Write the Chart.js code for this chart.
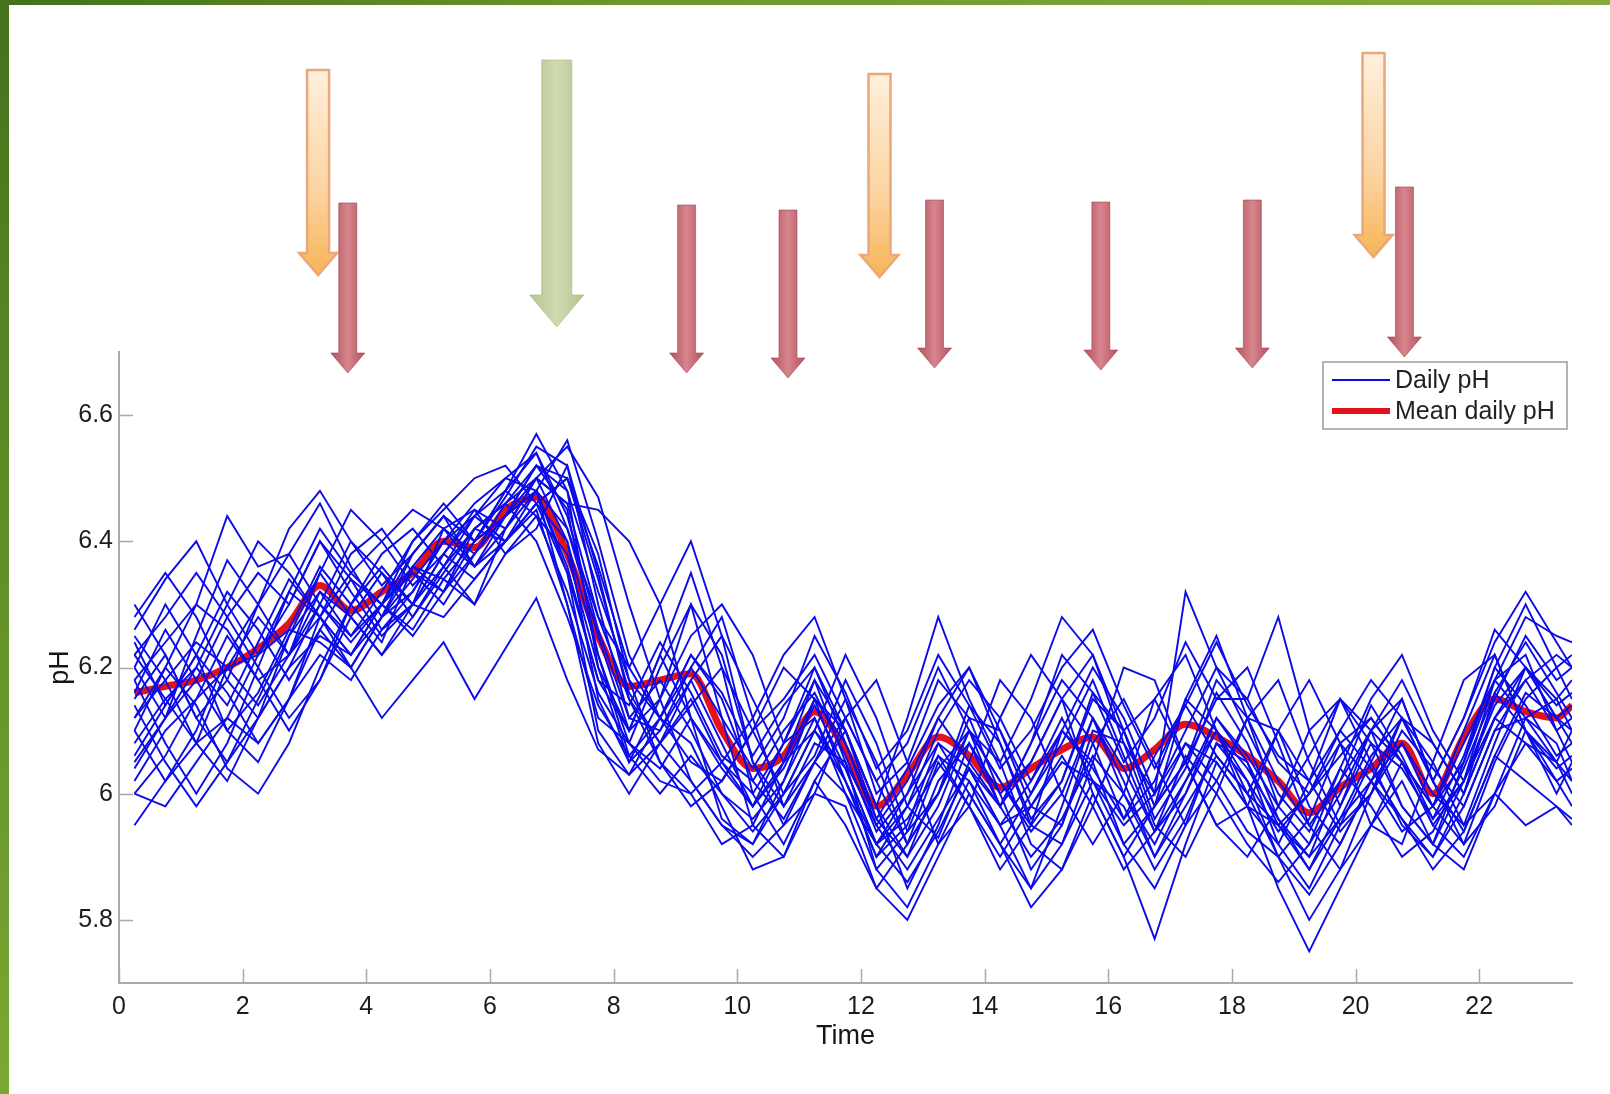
<!DOCTYPE html>
<html lang="en">
<head>
<meta charset="UTF-8">
<title>Daily pH</title>
<script src="https://cdn.jsdelivr.net/npm/chart.js"></script>
<style>
    html, body { margin: 0; padding: 0; background: #ffffff; }
    body { width: 1610px; height: 1094px; position: relative; overflow: hidden; }
    #chart { position: absolute; left: 0; top: 0; }
    #edge-top {
        position: absolute; left: 0; top: 0; width: 1610px; height: 5px; z-index: 2;
        background: linear-gradient(to right, #44701c, #6c982b 40%, #88aa3c);
    }
    #edge-left {
        position: absolute; left: 0; top: 0; width: 9px; height: 1094px; z-index: 2;
        background: linear-gradient(to bottom, #46711d, #5e8c26 45%, #79a834);
    }
</style>
</head>
<body>
<canvas id="chart" width="1610" height="1094"></canvas>
<div id="edge-top"></div>
<div id="edge-left"></div>
<script>
// time axis (hours), shared by every series
const hours = [0.25, 0.75, 1.25, 1.75, 2.25, 2.75, 3.25, 3.75, 4.25, 4.75,
    5.25, 5.75, 6.25, 6.75, 7.25, 7.75, 8.25, 8.75, 9.25, 9.75,
    10.25, 10.75, 11.25, 11.75, 12.25, 12.75, 13.25, 13.75, 14.25, 14.75,
    15.25, 15.75, 16.25, 16.75, 17.25, 17.75, 18.25, 18.75, 19.25, 19.75,
    20.25, 20.75, 21.25, 21.75, 22.25, 22.75, 23.25, 23.5];

const xTicks = [0, 2, 4, 6, 8, 10, 12, 14, 16, 18, 20, 22];
const yTicks = [5.8, 6, 6.2, 6.4, 6.6];

// events marked by arrows above the plot
const eventTimes = [3.22, 3.70, 7.08, 9.18, 10.82, 12.30, 13.19, 15.88, 18.33, 20.29, 20.79];
const eventKinds = ['orange', 'red', 'green', 'red', 'red', 'orange', 'red', 'red', 'red', 'orange', 'red'];

const meanPH = [6.16, 6.17, 6.18, 6.20, 6.23, 6.27, 6.33, 6.29, 6.32, 6.35,
    6.40, 6.39, 6.45, 6.47, 6.38, 6.25, 6.17, 6.18, 6.19, 6.10,
    6.04, 6.06, 6.13, 6.07, 5.98, 6.03, 6.09, 6.06, 6.01, 6.04,
    6.07, 6.09, 6.04, 6.07, 6.11, 6.09, 6.06, 6.02, 5.97, 6.01,
    6.04, 6.08, 6.00, 6.09, 6.15, 6.13, 6.12, 6.14];

const day01 = [6.30, 6.22, 6.12, 6.18, 6.30, 6.42, 6.48, 6.40, 6.33, 6.38, 6.44, 6.40, 6.47, 6.55, 6.52, 6.30, 6.12, 6.10, 6.20, 6.28, 6.12, 5.98, 6.05, 6.15, 6.05, 5.92, 6.00, 6.12, 6.10, 5.98, 5.95, 6.08, 6.15, 6.05, 5.95, 6.02, 6.12, 6.10, 5.98, 5.92, 6.02, 6.12, 6.05, 5.95, 6.08, 6.20, 6.15, 6.10];
const day02 = [6.05, 6.12, 6.25, 6.37, 6.30, 6.22, 6.28, 6.35, 6.30, 6.25, 6.32, 6.42, 6.40, 6.48, 6.56, 6.40, 6.22, 6.12, 6.05, 6.02, 6.10, 6.20, 6.15, 6.02, 5.92, 6.00, 6.12, 6.20, 6.08, 5.95, 5.92, 6.05, 6.20, 6.18, 6.05, 5.95, 5.98, 6.10, 6.18, 6.08, 5.95, 5.92, 6.05, 6.18, 6.22, 6.10, 6.00, 6.05];
const day03 = [6.20, 6.30, 6.22, 6.10, 6.05, 6.15, 6.28, 6.38, 6.42, 6.35, 6.30, 6.38, 6.46, 6.52, 6.48, 6.20, 6.05, 6.15, 6.30, 6.22, 6.05, 5.95, 6.00, 6.12, 6.18, 6.05, 5.92, 5.98, 6.12, 6.22, 6.15, 6.00, 5.90, 5.98, 6.15, 6.25, 6.12, 5.98, 5.92, 6.00, 6.10, 6.05, 5.95, 6.02, 6.15, 6.25, 6.18, 6.20];
const day04 = [5.95, 6.02, 6.10, 6.22, 6.30, 6.38, 6.46, 6.36, 6.28, 6.32, 6.40, 6.36, 6.42, 6.50, 6.55, 6.47, 6.30, 6.15, 6.02, 5.95, 5.92, 6.02, 6.15, 6.10, 5.98, 5.90, 5.98, 6.10, 6.05, 5.92, 5.88, 5.98, 6.10, 6.15, 6.05, 5.95, 5.90, 5.98, 6.10, 6.15, 6.05, 5.95, 5.90, 5.98, 6.10, 6.12, 6.08, 6.02];
const day05 = [6.25, 6.18, 6.08, 6.02, 6.12, 6.25, 6.35, 6.28, 6.22, 6.30, 6.42, 6.45, 6.38, 6.42, 6.52, 6.35, 6.15, 6.08, 6.18, 6.25, 6.15, 6.05, 6.10, 6.22, 6.12, 5.98, 5.93, 6.05, 6.18, 6.12, 6.00, 5.92, 6.00, 6.15, 6.22, 6.10, 5.98, 5.92, 6.02, 6.15, 6.10, 5.98, 5.92, 6.05, 6.18, 6.22, 6.10, 6.05];
const day06 = [6.02, 6.10, 6.15, 6.20, 6.22, 6.26, 6.24, 6.20, 6.12, 6.18, 6.24, 6.15, 6.23, 6.31, 6.18, 6.07, 6.03, 6.08, 6.02, 5.95, 5.90, 5.95, 6.05, 6.00, 5.92, 5.98, 6.06, 6.02, 5.95, 5.98, 6.05, 6.02, 5.95, 6.00, 6.08, 6.05, 5.98, 5.95, 5.90, 5.96, 6.02, 6.08, 6.00, 5.95, 6.00, 6.08, 6.05, 6.02];
const day07 = [6.12, 6.20, 6.30, 6.26, 6.18, 6.22, 6.35, 6.45, 6.40, 6.33, 6.38, 6.44, 6.50, 6.48, 6.42, 6.25, 6.10, 6.22, 6.35, 6.20, 6.00, 5.92, 6.02, 6.10, 5.98, 5.85, 5.95, 6.08, 6.00, 5.88, 5.95, 6.10, 6.08, 5.95, 5.90, 6.00, 6.12, 6.18, 6.05, 5.95, 6.00, 6.12, 6.08, 6.00, 6.12, 6.18, 6.22, 6.20];
const day08 = [6.18, 6.08, 6.00, 6.08, 6.20, 6.32, 6.28, 6.20, 6.28, 6.38, 6.44, 6.36, 6.40, 6.46, 6.50, 6.38, 6.18, 6.05, 6.00, 6.05, 6.12, 6.22, 6.28, 6.15, 6.00, 6.05, 6.18, 6.12, 6.00, 6.05, 6.15, 6.22, 6.10, 5.98, 6.05, 6.15, 6.20, 6.08, 5.95, 5.88, 5.95, 6.05, 5.95, 5.90, 6.00, 6.12, 6.15, 6.18];
const day09 = [6.22, 6.28, 6.35, 6.28, 6.20, 6.12, 6.18, 6.30, 6.38, 6.42, 6.36, 6.30, 6.42, 6.50, 6.46, 6.28, 6.20, 6.30, 6.40, 6.25, 6.05, 5.98, 6.08, 6.05, 5.95, 5.88, 5.96, 6.04, 5.95, 5.85, 5.92, 6.02, 5.98, 5.88, 5.96, 6.08, 6.05, 5.95, 5.88, 5.96, 6.06, 6.12, 6.02, 5.94, 6.06, 6.16, 6.12, 6.08];
const day10 = [6.08, 6.15, 6.20, 6.30, 6.40, 6.35, 6.28, 6.22, 6.30, 6.40, 6.46, 6.40, 6.48, 6.57, 6.48, 6.32, 6.18, 6.12, 6.08, 5.98, 5.88, 5.90, 6.02, 5.95, 5.85, 5.92, 6.05, 5.98, 5.88, 5.95, 6.10, 6.05, 5.92, 5.85, 5.95, 6.08, 6.02, 5.90, 5.80, 5.88, 6.00, 6.08, 5.98, 5.92, 6.05, 6.15, 6.20, 6.22];
const day11 = [6.14, 6.05, 5.98, 6.05, 6.15, 6.25, 6.32, 6.25, 6.30, 6.35, 6.32, 6.38, 6.44, 6.52, 6.45, 6.22, 6.08, 6.02, 6.00, 5.92, 5.95, 6.05, 6.18, 6.05, 5.88, 5.82, 5.92, 6.02, 5.92, 5.85, 5.98, 6.12, 6.02, 5.90, 6.00, 6.12, 6.05, 5.92, 5.85, 5.95, 6.05, 6.15, 6.02, 5.92, 5.98, 6.10, 6.05, 6.00];
const day12 = [6.28, 6.35, 6.28, 6.18, 6.12, 6.20, 6.30, 6.25, 6.32, 6.40, 6.45, 6.50, 6.52, 6.46, 6.35, 6.18, 6.10, 6.15, 6.25, 6.30, 6.22, 6.08, 6.12, 6.02, 5.90, 5.98, 6.10, 6.18, 6.12, 6.02, 6.10, 6.20, 6.12, 6.00, 6.32, 6.20, 6.15, 6.05, 6.00, 6.06, 6.12, 6.05, 5.98, 6.05, 6.20, 6.30, 6.20, 6.15];
const day13 = [6.10, 6.02, 6.08, 6.20, 6.28, 6.22, 6.30, 6.40, 6.35, 6.28, 6.35, 6.42, 6.46, 6.50, 6.40, 6.15, 6.05, 6.10, 6.18, 6.08, 5.98, 6.05, 6.15, 6.08, 5.95, 6.02, 6.12, 6.05, 5.98, 6.05, 6.15, 6.08, 5.96, 6.02, 6.15, 6.10, 6.00, 5.95, 6.00, 6.08, 6.12, 6.05, 5.98, 6.08, 6.18, 6.12, 6.05, 6.10];
const day14 = [6.00, 6.06, 6.15, 6.25, 6.18, 6.10, 6.18, 6.28, 6.35, 6.30, 6.38, 6.45, 6.42, 6.48, 6.35, 6.10, 6.03, 6.12, 6.22, 6.15, 6.02, 5.96, 6.05, 6.12, 6.02, 5.92, 6.00, 6.10, 6.02, 5.95, 6.02, 6.15, 6.10, 5.98, 6.05, 6.18, 6.12, 6.02, 5.95, 6.02, 6.10, 6.18, 6.08, 6.00, 6.12, 6.08, 6.02, 6.04];
const day15 = [6.20, 6.12, 6.18, 6.28, 6.35, 6.30, 6.40, 6.32, 6.25, 6.30, 6.38, 6.34, 6.40, 6.45, 6.30, 6.12, 6.08, 6.20, 6.30, 6.12, 5.95, 5.90, 6.00, 5.98, 5.85, 5.80, 5.90, 6.00, 5.92, 5.82, 5.88, 6.00, 5.90, 5.77, 5.92, 6.05, 5.98, 5.85, 5.75, 5.85, 5.95, 6.02, 5.92, 5.88, 6.00, 5.95, 5.98, 5.96];
const day16 = [6.15, 6.22, 6.12, 6.05, 6.12, 6.20, 6.25, 6.22, 6.28, 6.34, 6.40, 6.46, 6.50, 6.54, 6.42, 6.28, 6.15, 6.05, 5.98, 6.02, 6.10, 6.15, 6.22, 6.12, 6.02, 6.08, 6.20, 6.10, 5.98, 6.08, 6.22, 6.16, 6.05, 6.12, 6.24, 6.15, 6.15, 6.28, 6.10, 5.98, 6.10, 6.15, 6.02, 6.12, 6.26, 6.20, 6.12, 6.14];
const day17 = [6.22, 6.15, 6.08, 6.12, 6.22, 6.32, 6.42, 6.35, 6.40, 6.45, 6.42, 6.36, 6.44, 6.48, 6.30, 6.08, 6.00, 6.08, 6.15, 6.05, 5.98, 6.08, 6.20, 6.10, 5.98, 6.12, 6.28, 6.15, 6.05, 6.15, 6.28, 6.22, 6.08, 6.00, 6.10, 6.20, 6.10, 6.00, 5.94, 6.04, 6.15, 6.22, 6.10, 6.02, 6.18, 6.28, 6.25, 6.24];
const day18 = [6.06, 6.14, 6.22, 6.16, 6.08, 6.15, 6.26, 6.20, 6.28, 6.36, 6.34, 6.30, 6.38, 6.44, 6.38, 6.20, 6.10, 6.22, 6.12, 5.96, 5.92, 6.00, 6.10, 6.02, 5.90, 5.95, 6.08, 6.04, 5.95, 6.02, 6.12, 6.02, 5.92, 5.98, 6.08, 6.02, 5.94, 5.90, 5.96, 6.08, 6.02, 5.94, 5.98, 6.10, 6.22, 6.10, 6.02, 5.98];
const day19 = [6.18, 6.24, 6.30, 6.44, 6.36, 6.38, 6.30, 6.24, 6.30, 6.38, 6.44, 6.40, 6.44, 6.50, 6.46, 6.45, 6.40, 6.30, 6.12, 6.05, 6.00, 6.08, 6.18, 6.10, 5.96, 5.90, 6.02, 6.08, 5.98, 6.08, 6.18, 6.12, 6.00, 5.92, 6.02, 6.12, 6.06, 5.98, 6.06, 6.15, 6.08, 5.98, 5.92, 6.02, 6.14, 6.20, 6.12, 6.10];
const day20 = [6.12, 6.18, 6.24, 6.20, 6.14, 6.22, 6.32, 6.28, 6.22, 6.28, 6.36, 6.42, 6.46, 6.40, 6.28, 6.14, 6.06, 6.12, 6.20, 6.12, 6.04, 6.12, 6.25, 6.16, 6.04, 6.10, 6.22, 6.14, 6.04, 6.10, 6.20, 6.26, 6.14, 6.04, 6.14, 6.24, 6.14, 6.06, 6.02, 6.10, 6.18, 6.12, 6.02, 6.12, 6.24, 6.32, 6.24, 6.20];
const day21 = [6.26, 6.34, 6.40, 6.30, 6.22, 6.30, 6.40, 6.34, 6.26, 6.32, 6.40, 6.44, 6.40, 6.46, 6.50, 6.34, 6.16, 6.08, 6.14, 6.20, 6.10, 6.00, 6.06, 6.18, 6.08, 5.94, 6.00, 6.14, 6.08, 5.96, 6.02, 6.16, 6.10, 5.96, 6.04, 6.16, 6.08, 5.96, 5.90, 6.02, 6.14, 6.06, 5.96, 6.06, 6.20, 6.14, 6.06, 6.08];
const day22 = [6.00, 5.98, 6.05, 6.12, 6.08, 6.15, 6.22, 6.18, 6.26, 6.30, 6.28, 6.34, 6.40, 6.46, 6.40, 6.22, 6.06, 6.00, 6.06, 6.00, 5.94, 6.00, 6.10, 6.04, 5.92, 5.86, 5.94, 6.04, 5.98, 5.90, 5.96, 6.06, 6.00, 5.90, 5.98, 6.06, 6.00, 5.90, 5.84, 5.92, 6.02, 5.96, 5.88, 5.94, 6.06, 6.02, 5.98, 5.95];
const day23 = [6.10, 6.20, 6.14, 6.04, 6.00, 6.08, 6.20, 6.30, 6.24, 6.36, 6.42, 6.38, 6.44, 6.52, 6.50, 6.36, 6.20, 6.12, 6.22, 6.16, 6.06, 6.14, 6.20, 6.08, 5.96, 6.04, 6.14, 6.20, 6.10, 6.00, 6.08, 6.18, 6.06, 5.94, 6.00, 6.10, 6.02, 5.94, 6.00, 6.10, 6.04, 5.96, 5.90, 6.00, 6.16, 6.24, 6.16, 6.12];
const day24 = [6.24, 6.14, 6.22, 6.32, 6.26, 6.18, 6.26, 6.34, 6.30, 6.26, 6.34, 6.40, 6.48, 6.54, 6.44, 6.26, 6.12, 6.18, 6.10, 6.00, 5.96, 6.02, 6.12, 6.00, 5.88, 5.94, 6.06, 5.98, 5.90, 5.98, 6.06, 5.98, 5.88, 5.94, 6.06, 6.00, 5.92, 5.86, 5.92, 6.04, 5.98, 5.90, 5.94, 6.04, 6.16, 6.10, 6.04, 6.06];
const day25 = [6.04, 6.12, 6.20, 6.14, 6.24, 6.34, 6.28, 6.22, 6.30, 6.36, 6.32, 6.40, 6.44, 6.48, 6.36, 6.18, 6.14, 6.24, 6.16, 6.06, 6.02, 6.10, 6.16, 6.06, 5.94, 6.00, 6.08, 6.00, 5.92, 6.00, 6.10, 6.04, 5.96, 6.06, 6.14, 6.06, 6.00, 6.10, 6.02, 5.94, 6.00, 6.10, 6.04, 5.98, 6.10, 6.18, 6.10, 6.12];
const day26 = [6.16, 6.26, 6.18, 6.10, 6.16, 6.26, 6.36, 6.30, 6.36, 6.30, 6.36, 6.44, 6.48, 6.44, 6.32, 6.16, 6.08, 6.04, 6.12, 6.04, 5.98, 6.04, 6.14, 6.04, 5.92, 5.96, 6.04, 6.10, 6.02, 5.94, 6.00, 6.12, 6.04, 5.94, 6.02, 6.10, 6.04, 5.96, 5.88, 5.98, 6.08, 6.04, 5.96, 6.02, 6.12, 6.20, 6.14, 6.16];

const dailyRuns = [day01, day02, day03, day04, day05, day06, day07, day08, day09, day10,
    day11, day12, day13, day14, day15, day16, day17, day18, day19, day20,
    day21, day22, day23, day24, day25, day26];

const FONT = '"Liberation Sans", Arial, sans-serif';
const AXIS_GRAY = '#a9a9a9';
const DAILY_BLUE = 'rgb(10,10,235)';
const MEAN_RED = '#e3111c';

function toPoints(values) {
    return hours.map((h, i) => ({ x: h, y: values[i] }));
}

const datasets = dailyRuns.map(run => ({
    label: 'Daily pH',
    data: toPoints(run),
    borderColor: DAILY_BLUE,
    borderWidth: 1.9,
    pointRadius: 0,
    tension: 0,
    fill: false
}));
datasets.push({
    label: 'Mean daily pH',
    data: toPoints(meanPH),
    borderColor: MEAN_RED,
    borderWidth: 7,
    pointRadius: 0,
    cubicInterpolationMode: 'monotone',
    fill: false
});

// arrow geometry per kind (pixels) and per-arrow vertical extent
const arrowStyles = {
    orange: { shaft: 22, head: 38, headLen: 22 },
    red:    { shaft: 18, head: 34, headLen: 20 },
    green:  { shaft: 30, head: 54, headLen: 32 }
};
const arrowTop = [70, 203, 60, 205, 210, 74, 200, 202, 200, 53, 187];
const arrowTip = [275, 373, 327, 373, 378, 277, 368, 370, 368, 257, 357];

function arrowPath(ctx, cx, top, tip, st) {
    const hs = st.shaft / 2, hh = st.head / 2, neck = tip - st.headLen;
    ctx.beginPath();
    ctx.moveTo(cx - hs, top);
    ctx.lineTo(cx + hs, top);
    ctx.lineTo(cx + hs, neck);
    ctx.lineTo(cx + hh, neck);
    ctx.lineTo(cx, tip);
    ctx.lineTo(cx - hh, neck);
    ctx.lineTo(cx - hs, neck);
    ctx.closePath();
}

const eventArrows = {
    id: 'eventArrows',
    afterDraw(chart) {
        const ctx = chart.ctx;
        const xs = chart.scales.x;
        ctx.save();
        eventTimes.forEach((t, i) => {
            const kind = eventKinds[i];
            const st = arrowStyles[kind];
            const cx = xs.getPixelForValue(t);
            const top = arrowTop[i], tip = arrowTip[i];
            arrowPath(ctx, cx, top, tip, st);
            let g;
            if (kind === 'orange') {
                g = ctx.createLinearGradient(0, top, 0, tip);
                g.addColorStop(0, '#fff0dc');
                g.addColorStop(0.6, '#fcd3a0');
                g.addColorStop(1, '#f7b456');
                ctx.fillStyle = g;
                ctx.fill();
                ctx.strokeStyle = '#e9a77c';
                ctx.lineWidth = 2.5;
                ctx.stroke();
            } else if (kind === 'red') {
                g = ctx.createLinearGradient(cx - st.head / 2, 0, cx + st.head / 2, 0);
                g.addColorStop(0, '#b2525e');
                g.addColorStop(0.5, '#d7858d');
                g.addColorStop(1, '#b2525e');
                ctx.fillStyle = g;
                ctx.fill();
                ctx.strokeStyle = 'rgba(160,70,80,0.6)';
                ctx.lineWidth = 1;
                ctx.stroke();
            } else {
                g = ctx.createLinearGradient(cx - st.head / 2, 0, cx + st.head / 2, 0);
                g.addColorStop(0, '#b4c58e');
                g.addColorStop(0.5, '#d0dab0');
                g.addColorStop(1, '#b4c58e');
                ctx.fillStyle = g;
                ctx.fill();
                ctx.strokeStyle = 'rgba(170,190,130,0.7)';
                ctx.lineWidth = 1;
                ctx.stroke();
            }
        });
        ctx.restore();
    }
};

// MATLAB-like inward tick marks
const inwardTicks = {
    id: 'inwardTicks',
    afterDraw(chart) {
        const { ctx, chartArea, scales } = chart;
        ctx.save();
        ctx.strokeStyle = AXIS_GRAY;
        ctx.lineWidth = 1.5;
        ctx.beginPath();
        xTicks.forEach(v => {
            const px = Math.round(scales.x.getPixelForValue(v)) + 0.5;
            ctx.moveTo(px, chartArea.bottom);
            ctx.lineTo(px, chartArea.bottom - 14);
        });
        yTicks.forEach(v => {
            const py = Math.round(scales.y.getPixelForValue(v)) + 0.5;
            ctx.moveTo(chartArea.left, py);
            ctx.lineTo(chartArea.left + 14, py);
        });
        ctx.stroke();
        ctx.restore();
    }
};

const boxLegend = {
    id: 'boxLegend',
    afterDraw(chart) {
        const { ctx, chartArea } = chart;
        const w = 244, h = 67;
        const x0 = chartArea.right - w - 5, y0 = chartArea.top + 10;
        const entries = [
            { text: 'Daily pH', color: DAILY_BLUE, width: 2, y: y0 + 18 },
            { text: 'Mean daily pH', color: MEAN_RED, width: 6, y: y0 + 49 }
        ];
        ctx.save();
        ctx.fillStyle = '#ffffff';
        ctx.fillRect(x0, y0, w, h);
        ctx.strokeStyle = '#9c9c9c';
        ctx.lineWidth = 1.5;
        ctx.strokeRect(x0, y0, w, h);
        ctx.font = '25px ' + FONT;
        ctx.textBaseline = 'middle';
        ctx.textAlign = 'left';
        entries.forEach(e => {
            ctx.strokeStyle = e.color;
            ctx.lineWidth = e.width;
            ctx.beginPath();
            ctx.moveTo(x0 + 9, e.y);
            ctx.lineTo(x0 + 67, e.y);
            ctx.stroke();
            ctx.fillStyle = '#222222';
            ctx.fillText(e.text, x0 + 72, e.y + 1);
        });
        ctx.restore();
    }
};

new Chart(document.getElementById('chart'), {
    type: 'line',
    data: { datasets },
    options: {
        responsive: false,
        animation: false,
        devicePixelRatio: 1,
        layout: { padding: { top: 352, right: 38, left: 0, bottom: 0 } },
        plugins: {
            legend: { display: false },
            tooltip: { enabled: false }
        },
        scales: {
            x: {
                type: 'linear',
                min: 0,
                max: 23.5,
                afterBuildTicks: s => { s.ticks = xTicks.map(v => ({ value: v })); },
                afterFit: s => { s.height = 111; },
                grid: { display: false, drawTicks: false },
                border: { color: AXIS_GRAY, width: 2 },
                ticks: {
                    font: { family: FONT, size: 25 },
                    color: '#1c1c1c',
                    padding: 9,
                    maxRotation: 0,
                    callback: v => String(v)
                },
                title: {
                    display: true,
                    text: 'Time',
                    font: { family: FONT, size: 27 },
                    color: '#151515',
                    padding: { top: 0, bottom: 41 }
                }
            },
            y: {
                type: 'linear',
                min: 5.7,
                max: 6.7,
                afterBuildTicks: s => { s.ticks = yTicks.map(v => ({ value: v })); },
                afterFit: s => { s.width = 119; },
                grid: { display: false, drawTicks: false },
                border: { color: AXIS_GRAY, width: 2 },
                ticks: {
                    font: { family: FONT, size: 25 },
                    color: '#1c1c1c',
                    padding: 6,
                    callback: v => String(v)
                },
                title: {
                    display: true,
                    text: 'pH',
                    font: { family: FONT, size: 27 },
                    color: '#151515',
                    padding: { top: 44, bottom: 0 }
                }
            }
        }
    },
    plugins: [inwardTicks, eventArrows, boxLegend]
});
</script>
</body>
</html>
